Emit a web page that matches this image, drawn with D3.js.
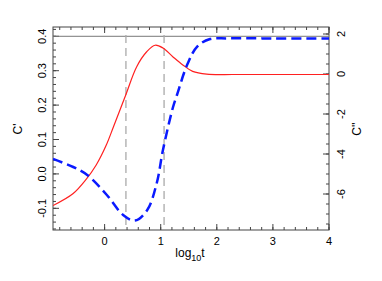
<!DOCTYPE html>
<html>
<head>
<meta charset="utf-8">
<script src="https://cdn.jsdelivr.net/npm/d3@7"></script>
<style>
  body { margin: 0; background: #fff; }
  text { font-family: "Liberation Sans", Arial, sans-serif; }
</style>
</head>
<body>
<div id="chart"></div>
<script>
// first derivative C' (left axis)
var redT = [-0.92, -0.56, -0.33, -0.15, 0.03, 0.16, 0.38, 0.57, 0.75, 0.90, 1.04, 1.22, 1.40, 1.57, 1.82, 2.3, 3.0, 4.0]
var redV = [-0.092, -0.057, -0.016, 0.026, 0.084, 0.138, 0.231, 0.311, 0.355, 0.374, 0.366, 0.34, 0.316, 0.298, 0.29, 0.289, 0.289, 0.289]
// second derivative C'' (right axis)
var blueT = [-0.92, -0.56, -0.31, 0.04, 0.33, 0.54, 0.76, 0.93, 1.04, 1.22, 1.29, 1.47, 1.65, 1.88, 2.2, 3.0, 4.0]
var blueV = [-4.25, -4.65, -5.05, -6.05, -7.05, -7.33, -6.8, -5.45, -3.8, -1.65, -1.05, 0.45, 1.37, 1.75, 1.78, 1.78, 1.78]
var vlines = [0.38, 1.06]
var xTicks = [0, 1, 2, 3, 4]
var leftTicks = [-0.1, 0.0, 0.1, 0.2, 0.3, 0.4]
var rightTicks = [-6, -4, -2, 0, 2]

var W = 382, H = 281
var L = 53, R = 329, T = 27, B = 230

var svg = d3.select('#chart').append('svg')
  .attr('width', W).attr('height', H)

var x = d3.scaleLinear().domain([-0.92, 4]).range([L, R])
var yL = d3.scaleLinear().domain([-0.163, 0.427]).range([B, T])
var yR = d3.scaleLinear().domain([-7.8, 2.35]).range([B, T])

var axisCol = '#444'

function minor(lo, hi, step) {
  var out = []
  for (var v = Math.ceil(lo / step - 1e-9); v * step <= hi + 1e-9; v++) out.push(+(v * step).toFixed(6))
  return out
}

// bottom & top
var g = svg.append('g')
g.selectAll('line.bmin').data(minor(-0.92, 4, 0.2)).enter().append('line')
  .attr('x1', d => x(d)).attr('x2', d => x(d)).attr('y1', B).attr('y2', B - 3)
  .attr('stroke', axisCol)
g.selectAll('line.tmin').data(minor(-0.92, 4, 0.2)).enter().append('line')
  .attr('x1', d => x(d)).attr('x2', d => x(d)).attr('y1', T).attr('y2', T + 3)
  .attr('stroke', axisCol)
g.selectAll('line.bmaj').data(xTicks).enter().append('line')
  .attr('x1', d => x(d)).attr('x2', d => x(d)).attr('y1', B).attr('y2', B - 6)
  .attr('stroke', axisCol)
g.selectAll('line.tmaj').data(xTicks).enter().append('line')
  .attr('x1', d => x(d)).attr('x2', d => x(d)).attr('y1', T).attr('y2', T + 6)
  .attr('stroke', axisCol)
g.selectAll('text.xl').data(xTicks).enter().append('text')
  .attr('x', d => x(d)).attr('y', 245).attr('text-anchor', 'middle')
  .attr('font-size', 11).text(d => d)

// left
g.selectAll('line.lmin').data(minor(-0.163, 0.427, 0.02)).enter().append('line')
  .attr('x1', L).attr('x2', L + 3).attr('y1', d => yL(d)).attr('y2', d => yL(d))
  .attr('stroke', axisCol)
g.selectAll('line.lmaj').data(leftTicks).enter().append('line')
  .attr('x1', L).attr('x2', L + 6).attr('y1', d => yL(d)).attr('y2', d => yL(d))
  .attr('stroke', axisCol)
g.selectAll('text.yl').data(leftTicks).enter().append('text')
  .attr('transform', d => 'translate(46,' + yL(d) + ') rotate(-90)')
  .attr('text-anchor', 'middle').attr('font-size', 11)
  .text(d => d.toFixed(1))

// right
g.selectAll('line.rmin').data(minor(-7.8, 2.35, 0.5)).enter().append('line')
  .attr('x1', R).attr('x2', R - 3).attr('y1', d => yR(d)).attr('y2', d => yR(d))
  .attr('stroke', axisCol)
g.selectAll('line.rmaj').data(rightTicks).enter().append('line')
  .attr('x1', R).attr('x2', R - 6).attr('y1', d => yR(d)).attr('y2', d => yR(d))
  .attr('stroke', axisCol)
g.selectAll('text.yr').data(rightTicks).enter().append('text')
  .attr('transform', d => 'translate(345,' + yR(d) + ') rotate(-90)')
  .attr('text-anchor', 'middle').attr('font-size', 11)
  .text(d => d)

// frame and the 0.4 reference line
svg.append('rect').attr('x', L).attr('y', T).attr('width', R - L).attr('height', B - T)
  .attr('fill', 'none').attr('stroke', axisCol)
svg.append('line').attr('x1', L).attr('x2', R).attr('y1', yL(0.4)).attr('y2', yL(0.4))
  .attr('stroke', '#777')

// axis titles
svg.append('text').attr('transform', 'translate(22,129) rotate(-90)')
  .attr('text-anchor', 'middle').attr('font-size', 12).text("C'")
svg.append('text').attr('transform', 'translate(361,129) rotate(-90)')
  .attr('text-anchor', 'middle').attr('font-size', 12).text("C''")
var xt = svg.append('text').attr('x', 190).attr('y', 257).attr('text-anchor', 'middle').attr('font-size', 12)
xt.append('tspan').text('log')
xt.append('tspan').attr('font-size', 9).attr('dy', 4).text('10')
xt.append('tspan').attr('dy', -4).text('t')

// vertical dashed markers
svg.selectAll('line.vl').data(vlines).enter().append('line')
  .attr('x1', d => x(d)).attr('x2', d => x(d)).attr('y1', T + 8).attr('y2', B)
  .attr('stroke', '#aaa').attr('stroke-width', 1.3).attr('stroke-dasharray', '8,5')

var clip = svg.append('clipPath').attr('id', 'clip').append('rect')
  .attr('x', L).attr('y', T).attr('width', R - L).attr('height', B - T)

var redLine = d3.line().x(d => x(d[0])).y(d => yL(d[1])).curve(d3.curveCatmullRom.alpha(0.5))
svg.append('path').datum(d3.zip(redT, redV)).attr('d', redLine)
  .attr('fill', 'none').attr('stroke', '#ff2020').attr('stroke-width', 1.2)
  .attr('clip-path', 'url(#clip)')

var blueLine = d3.line().x(d => x(d[0])).y(d => yR(d[1])).curve(d3.curveCatmullRom.alpha(0.5))
svg.append('path').datum(d3.zip(blueT, blueV)).attr('d', blueLine)
  .attr('fill', 'none').attr('stroke', '#0a1aff').attr('stroke-width', 2.5)
  .attr('stroke-dasharray', '10,5')
  .attr('clip-path', 'url(#clip)')
</script>
</body>
</html>
